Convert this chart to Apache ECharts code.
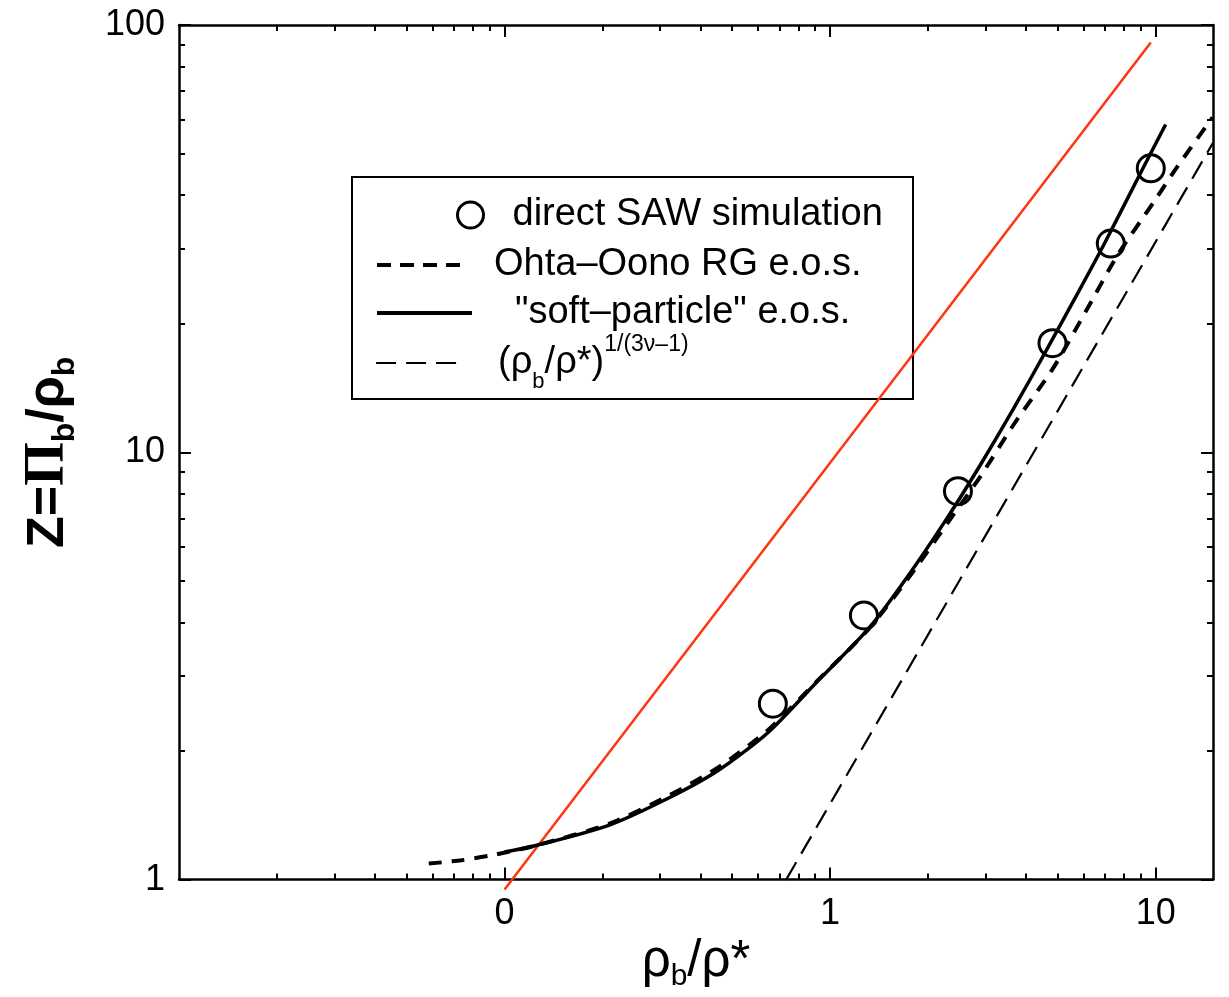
<!DOCTYPE html>
<html>
<head>
<meta charset="utf-8">
<title>Z = Pi_b / rho_b</title>
<script src="https://cdn.jsdelivr.net/npm/echarts@6/dist/echarts.min.js"></script>
<style>
html,body{margin:0;padding:0;background:#fff;}
#main{width:1229px;height:997px;}
</style>
</head>
<body>
<div id="main"></div>
<script>
// ticks
const xTickVals = [0.1, 1, 10];
const xTickText = ['0', '1', '10'];
const xMinorVals = [0.02, 0.03, 0.04, 0.05, 0.06, 0.07, 0.08, 0.09,
                    0.2, 0.3, 0.4, 0.5, 0.6, 0.7, 0.8, 0.9,
                    2, 3, 4, 5, 6, 7, 8, 9];
const yTickVals = [1, 10, 100];
const yMinorVals = [2, 3, 4, 5, 6, 7, 8, 9, 20, 30, 40, 50, 60, 70, 80, 90];

// data  [rho_b/rho*, Z]
const sawPoints = [[0.667, 2.58], [1.27, 4.15], [2.47, 8.11], [4.82, 18.0], [7.28, 30.8], [9.66, 46.2]];
const softParticle = [[0.1, 1.16], [0.124, 1.20], [0.209, 1.34], [0.318, 1.55], [0.453, 1.80],
                      [0.645, 2.21], [0.918, 2.92], [1.31, 3.86], [1.73, 5.12], [2.30, 7.06],
                      [2.905, 9.39], [3.67, 12.7], [4.65, 17.5], [5.68, 23.1], [6.93, 30.6],
                      [9.10, 45.9], [10.73, 58.5]];
const ohtaOono = [[0.0585, 1.09], [0.0738, 1.11], [0.0912, 1.14], [0.124, 1.20], [0.209, 1.35],
                  [0.318, 1.57], [0.453, 1.83], [0.645, 2.24], [0.918, 2.93], [1.31, 3.85],
                  [1.73, 5.05], [2.30, 6.85], [2.90, 8.8], [3.66, 11.6], [4.86, 15.8],
                  [6.17, 21.7], [7.63, 28.9], [9.86, 38.5], [11.7, 46.8], [14.96, 60.8]];
const powerLaw = [[0.733, 1.0], [15, 53]];
const redLine = [[0.1, 0.948], [9.66, 91.0]];

const FONT = 'Liberation Sans';

function xLabel(v) {
  for (let i = 0; i < xTickVals.length; i++) {
    if (Math.abs(Math.log10(v) - Math.log10(xTickVals[i])) < 1e-6) return xTickText[i];
  }
  return '';
}

function xAxisOf(pos, major) {
  return {
    type: 'log', logBase: 10, min: 0.01, max: 15, position: pos,
    axisLine: {show: major, lineStyle: {color: '#000', width: 2.5}},
    axisTick: {show: true, inside: true, length: major ? 12 : 6,
               customValues: major ? xTickVals : xMinorVals,
               lineStyle: {color: '#000', width: 2}},
    axisLabel: {show: major && pos === 'bottom', customValues: xTickVals, formatter: xLabel,
                margin: 16, color: '#000', fontFamily: FONT, fontSize: 36},
    splitLine: {show: false}
  };
}
function yAxisOf(pos, major) {
  return {
    type: 'log', logBase: 10, min: 1, max: 100, position: pos,
    axisLine: {show: major, lineStyle: {color: '#000', width: 2.5}},
    axisTick: {show: true, inside: true, length: major ? 12 : 6,
               customValues: major ? yTickVals : yMinorVals,
               lineStyle: {color: '#000', width: 2}},
    axisLabel: {show: major && pos === 'left', customValues: yTickVals,
                margin: 14, color: '#000', fontFamily: FONT, fontSize: 36},
    splitLine: {show: false}
  };
}

const xAxes = [xAxisOf('bottom', true), xAxisOf('bottom', false), xAxisOf('top', true), xAxisOf('top', false)];
const yAxes = [yAxisOf('left', true), yAxisOf('left', false), yAxisOf('right', true), yAxisOf('right', false)];

xAxes[0].name = '{r|ρ}{sub|b}{r|/ρ*}';
xAxes[0].nameLocation = 'middle';
xAxes[0].nameGap = 47;
xAxes[0].nameTextStyle = {
  color: '#000', fontFamily: FONT,
  rich: {
    r: {fontSize: 51, lineHeight: 60, fontFamily: FONT, color: '#000'},
    sub: {fontSize: 30, lineHeight: 40, verticalAlign: 'bottom', fontFamily: FONT, color: '#000'}
  }
};
yAxes[0].name = '{z|Z=}{pi|Π}{sub|b}{z|/ρ}{sub|b}';
yAxes[0].nameLocation = 'middle';
yAxes[0].nameRotate = 90;
yAxes[0].nameGap = 98;
yAxes[0].nameTextStyle = {
  color: '#000', fontFamily: FONT,
  rich: {
    z: {fontSize: 52, fontWeight: 'bold', lineHeight: 64, fontFamily: FONT, color: '#000'},
    pi: {fontSize: 56, fontWeight: 'bold', lineHeight: 64, fontFamily: 'Liberation Serif', color: '#000'},
    sub: {fontSize: 32, fontWeight: 'bold', lineHeight: 46, verticalAlign: 'bottom', fontFamily: FONT, color: '#000'}
  }
};

const legendText = {color: '#000', fontFamily: FONT, fontSize: 38, lineHeight: 40};
// hide the dot ECharts puts in the middle of line legend icons
const noDot = {color: 'rgba(0,0,0,0)', borderWidth: 0, opacity: 0};

const chart = echarts.init(document.getElementById('main'));
chart.setOption({
  animation: false,
  backgroundColor: '#fff',
  grid: {left: 179, right: 16, top: 25, bottom: 112},
  xAxis: xAxes,
  yAxis: yAxes,
  graphic: [{
    type: 'rect', z: 1,
    shape: {x: 352, y: 177, width: 561, height: 222},
    style: {fill: 'none', stroke: '#000', lineWidth: 2}
  }],
  legend: [
    {data: ['direct SAW simulation'], left: 456, top: 195, padding: 0, selectedMode: false,
     itemWidth: 26, itemHeight: 26,
     itemStyle: {color: 'rgba(0,0,0,0)', borderColor: '#000', borderWidth: 3, opacity: 1},
     textStyle: Object.assign({padding: [0, 0, 0, 24]}, legendText)},
    {data: ['Ohta–Oono RG e.o.s.'], left: 375, top: 245, padding: 0, selectedMode: false,
     itemWidth: 90, itemHeight: 14, itemStyle: noDot,
     lineStyle: {color: '#000', width: 4, type: [14, 9], opacity: 1},
     textStyle: Object.assign({padding: [0, 0, 0, 22]}, legendText)},
    {data: ['"soft–particle" e.o.s.'], left: 375, top: 293, padding: 0, selectedMode: false,
     itemWidth: 95, itemHeight: 14, itemStyle: noDot,
     lineStyle: {color: '#000', width: 4, type: 'solid', opacity: 1},
     textStyle: Object.assign({padding: [0, 0, 0, 38]}, legendText)},
    {data: ['powerLaw'], left: 375, top: 333, padding: 0, selectedMode: false,
     itemWidth: 90, itemHeight: 14, itemStyle: noDot,
     lineStyle: {color: '#000', width: 2.2, type: [20, 10], opacity: 1},
     formatter: function () { return '{n|(ρ}{sub|b}{n|/ρ*)}{sup|1/(3ν–1)}'; },
     textStyle: {
       color: '#000', fontFamily: FONT, padding: [0, 0, 0, 27],
       rich: {
         n: {fontSize: 38, lineHeight: 60, fontFamily: FONT, color: '#000'},
         sub: {fontSize: 22, lineHeight: 44, verticalAlign: 'bottom', fontFamily: FONT, color: '#000'},
         sup: {fontSize: 23, lineHeight: 20, verticalAlign: 'top', fontFamily: FONT, color: '#000'}
       }
     }}
  ],
  series: [
    {name: 'red', type: 'line', data: redLine, symbol: 'none', clip: false, z: 3,
     lineStyle: {color: '#ff3412', width: 2.5}},
    {name: 'powerLaw', type: 'line', data: powerLaw, symbol: 'none', color: '#000',
     lineStyle: {color: '#000', width: 2.2, type: [20, 10]}},
    {name: 'Ohta–Oono RG e.o.s.', type: 'line', data: ohtaOono, symbol: 'none', smooth: 0.25, color: '#000',
     lineStyle: {color: '#000', width: 4, type: [13, 10]}},
    {name: '"soft–particle" e.o.s.', type: 'line', data: softParticle, symbol: 'none', smooth: 0.25, color: '#000',
     lineStyle: {color: '#000', width: 3.5}},
    {name: 'direct SAW simulation', type: 'scatter', data: sawPoints, symbol: 'circle', symbolSize: 27,
     itemStyle: {color: 'rgba(0,0,0,0)', borderColor: '#000', borderWidth: 3, opacity: 1}}
  ]
});
</script>
</body>
</html>
